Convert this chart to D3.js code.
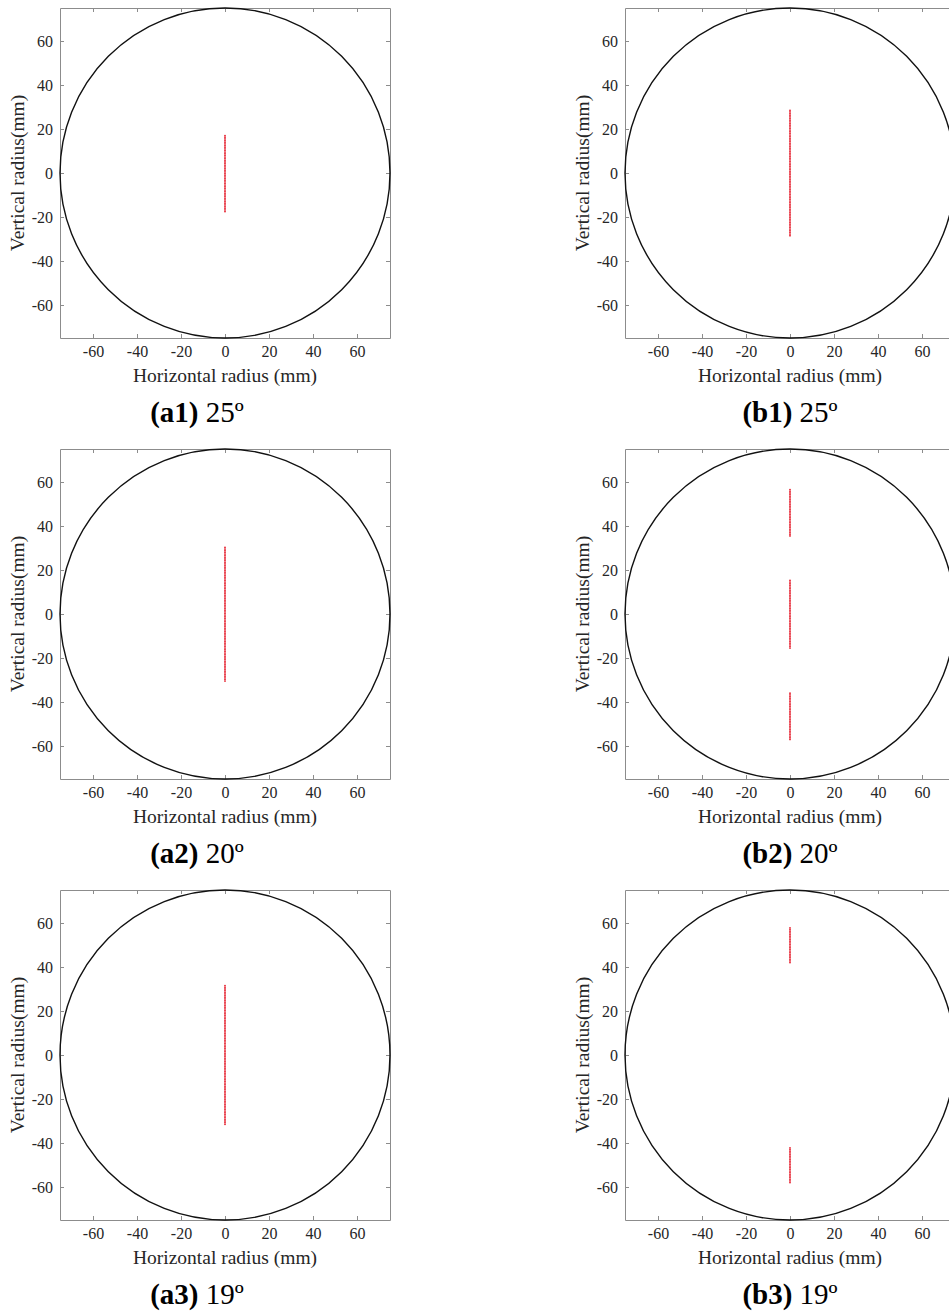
<!DOCTYPE html>
<html>
<head>
  <script src="https://d3js.org/d3.v7.min.js"></script>
  <style>
    body { margin: 0; background: #fff; }
    svg text { font-family: "Liberation Serif", "Times New Roman", serif; }
  </style>
</head>
<body>
  <svg id="canvas" width="949" height="1316"></svg>
  <script>
    const svg = d3.select("#canvas");

    // data (mm)
    const tickValues = [-60, -40, -20, 0, 20, 40, 60];
    const domainLimit = 75;
    const circleRadius = 75;
    const dotStep = 0.75;

    const panelIds = ["a1", "b1", "a2", "b2", "a3", "b3"];
    const panelAngles = ["25", "25", "20", "20", "19", "19"];
    // red dotted segments along x = 0, [bottom, top]
    const segmentsA1 = [[-17.5, 17.5]];
    const segmentsB1 = [[-28.5, 28.5]];
    const segmentsA2 = [[-30.5, 30.5]];
    const segmentsB2 = [[-57, -35.5], [-15.5, 15.5], [35.5, 57]];
    const segmentsA3 = [[-31.5, 31.5]];
    const segmentsB3 = [[-58, -42], [42, 58]];
    const panelSegments = [segmentsA1, segmentsB1, segmentsA2, segmentsB2, segmentsA3, segmentsB3];

    const boxSize = 330;
    const colLeft = [60, 625];
    const rowTop = [8, 449, 890];
    const captionX = [197, 790];

    const fmt = d => String(d).replace("\u2212", "-");

    panelIds.forEach((id, i) => {
      const col = i % 2, row = Math.floor(i / 2);
      const g = svg.append("g")
        .attr("transform", `translate(${colLeft[col]},${rowTop[row]})`);

      const x = d3.scaleLinear().domain([-domainLimit, domainLimit]).range([0, boxSize]);
      const y = d3.scaleLinear().domain([-domainLimit, domainLimit]).range([boxSize, 0]);

      // axes (box style, ticks inside)
      const styleAxis = sel => {
        sel.attr("font-family", null);
        sel.select(".domain").attr("stroke", "#8c8c8c");
        sel.selectAll(".tick line").attr("stroke", "#8c8c8c");
        sel.selectAll(".tick text").attr("fill", "#262626")
          .style("font-size", "16px")
          .style("font-family", "'Liberation Serif', serif");
      };
      g.append("g").attr("transform", `translate(0,${boxSize})`)
        .call(d3.axisBottom(x).tickValues(tickValues).tickSizeInner(-4).tickSizeOuter(0).tickPadding(8).tickFormat(fmt))
        .call(styleAxis);
      g.append("g")
        .call(d3.axisTop(x).tickValues(tickValues).tickSizeInner(-4).tickSizeOuter(0).tickFormat(""))
        .call(styleAxis);
      g.append("g")
        .call(d3.axisLeft(y).tickValues(tickValues).tickSizeInner(-4).tickSizeOuter(0).tickPadding(7).tickFormat(fmt))
        .call(styleAxis);
      g.append("g").attr("transform", `translate(${boxSize},0)`)
        .call(d3.axisRight(y).tickValues(tickValues).tickSizeInner(-4).tickSizeOuter(0).tickFormat(""))
        .call(styleAxis);

      // circle boundary
      g.append("circle")
        .attr("cx", x(0)).attr("cy", y(0))
        .attr("r", x(circleRadius) - x(0))
        .attr("fill", "none")
        .attr("stroke", "#111")
        .attr("stroke-width", 1.4);

      // red dots
      const dots = panelSegments[i].flatMap(([lo, hi]) => d3.range(lo, hi + 1e-6, dotStep));
      g.append("g").selectAll("circle")
        .data(dots)
        .enter()
        .append("circle")
        .attr("cx", x(0))
        .attr("cy", d => y(d))
        .attr("r", 0.9)
        .attr("fill", "#e5202e");

      // axis titles
      g.append("text")
        .attr("x", x(0)).attr("y", boxSize + 44)
        .attr("text-anchor", "middle")
        .attr("font-size", 19.5)
        .attr("fill", "#262626")
        .text("Horizontal radius (mm)");
      g.append("text")
        .attr("transform", `translate(-36,${y(0)}) rotate(-90)`)
        .attr("text-anchor", "middle")
        .attr("font-size", 19.5)
        .attr("fill", "#262626")
        .text("Vertical radius(mm)");

      // caption
      const cap = svg.append("text")
        .attr("x", captionX[col])
        .attr("y", rowTop[row] + boxSize + 84)
        .attr("text-anchor", "middle")
        .attr("font-size", 29)
        .attr("fill", "#000");
      cap.append("tspan").attr("font-weight", "bold").text(`(${id})`);
      cap.append("tspan").text(` ${panelAngles[i]}º`);
    });
  </script>
</body>
</html>
